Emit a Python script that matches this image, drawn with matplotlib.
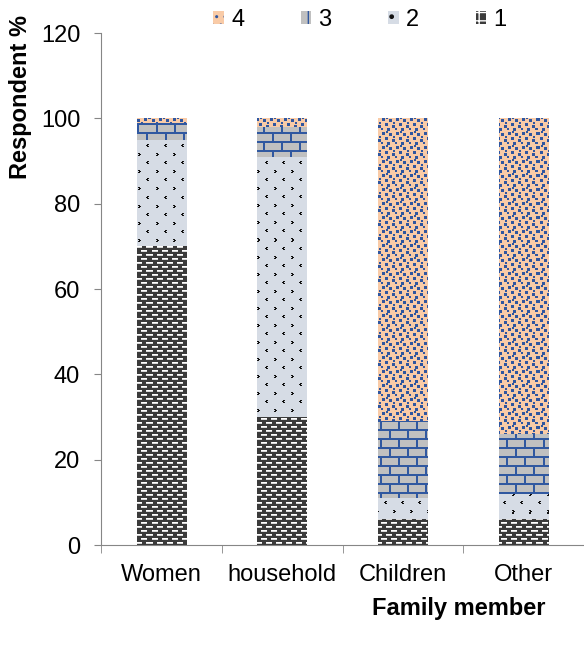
import numpy as np
import matplotlib
matplotlib.use("Agg")
import matplotlib.pyplot as plt
from matplotlib.patches import Patch

# Data
categories = ["Women", "household", "Children", "Other"]
series_labels = ["1", "2", "3", "4"]
share_1 = [70, 30, 6, 6]
share_2 = [25, 61, 5, 6]
share_3 = [4, 7, 18, 14]
share_4 = [1, 2, 71, 74]
y_ticks = [0, 20, 40, 60, 80, 100, 120]

plt.rcParams["font.family"] = ["Liberation Sans", "DejaVu Sans"]
FS = 17

W, H = 584, 650
fig = plt.figure(figsize=(W / 100, H / 100), dpi=100)
ax = fig.add_axes([101 / W, 105 / H, (W - 101) / W, 512 / H])


def rgb(h):
    return np.array([int(h[i:i + 2], 16) for i in (1, 3, 5)]) / 255.0


# Small pixel tiles used as fill textures
def tile_dashes():
    t = np.empty((8, 10, 3))
    t[:] = rgb("#3b3b3b")
    dash = np.zeros(10, bool)
    dash[0:6] = True
    t[1, dash] = rgb("#ffffff")
    t[2, dash] = rgb("#d9d9d9")
    t[5, np.roll(dash, 5)] = rgb("#ffffff")
    t[6, np.roll(dash, 5)] = rgb("#d9d9d9")
    return t


def tile_arrows():
    t = np.empty((17, 17, 3))
    t[:] = rgb("#d6dce5")
    k = rgb("#111111")
    right = [(0, 0), (0, 1), (1, 1), (1, 2), (2, 0), (2, 1)]
    left = [(0, 1), (0, 2), (1, 0), (1, 1), (2, 1), (2, 2)]
    for r, c in right:
        t[2 + r, 3 + c] = k
    for r, c in left:
        t[10 + r, 11 + c] = k
    return t


def tile_bricks():
    t = np.empty((18, 18, 3))
    t[:] = rgb("#c0c0c0")
    m = rgb("#3058a0")
    t[0:2, :] = m
    t[9:11, :] = m
    t[0:9, 0:2] = m
    t[9:18, 9:11] = m
    return t


def tile_squares():
    t = np.empty((14, 14, 3))
    t[:] = rgb("#f9cba7")
    b = rgb("#2f56a0")
    for r, c, s in [(1, 1, 3), (2, 8, 3), (6, 4, 3), (8, 11, 3),
                    (11, 0, 2), (11, 6, 3), (5, 12, 2), (0, 5, 2)]:
        t[r:r + s, c:c + s] = b
    return t


fills = [
    ("#3b3b3b", tile_dashes()),
    ("#d6dce5", tile_arrows()),
    ("#c0c0c0", tile_bricks()),
    ("#f9cba7", tile_squares()),
]

ax.set_xlim(-0.5, 3.5)
ax.set_ylim(0, 120)
x = np.arange(len(categories))
bar_w = 0.41

# Texture canvas the size of the axes in pixels
pos = ax.get_position()
aw = int(round(pos.width * W))
ah = int(round(pos.height * H))


def texture(tile):
    th, tw, _ = tile.shape
    reps = (ah // th + 1, aw // tw + 1, 1)
    return np.tile(tile, reps)[:ah, :aw]


bottom = np.zeros(len(categories))
for vals, (base, tile) in zip([share_1, share_2, share_3, share_4], fills):
    bars = ax.bar(x, vals, bar_w, bottom=bottom, color=base,
                  edgecolor="none", zorder=2)
    tex = texture(tile)
    for rect in bars.patches:
        im = ax.imshow(tex, extent=(-0.5, 3.5, 0, 120), aspect="auto",
                       interpolation="nearest", origin="upper", zorder=3)
        im.set_clip_path(rect)
    bottom = bottom + np.array(vals)

ax.set_xlim(-0.5, 3.5)
ax.set_ylim(0, 120)
ax.set_yticks(y_ticks)
ax.set_xticks(x, categories)
ax.set_xticks(np.arange(-0.5, 4.0, 1.0), minor=True)

axis_grey = "#868686"
ax.tick_params(axis="x", which="major", length=0, pad=14, labelsize=FS)
ax.tick_params(axis="x", which="minor", length=6, direction="out",
               color=axis_grey)
ax.tick_params(axis="y", length=5, color=axis_grey, labelsize=FS, pad=10)
for s in ["top", "right"]:
    ax.spines[s].set_visible(False)
for s in ["left", "bottom"]:
    ax.spines[s].set_color(axis_grey)

handles = [
    Patch(facecolor="#f9cba7", edgecolor="#2f56a0", hatch="..", lw=0, label="4"),
    Patch(facecolor="#c0c0c0", edgecolor="#3058a0", hatch="+", lw=0, label="3"),
    Patch(facecolor="#d6dce5", edgecolor="#111111", hatch=".", lw=0, label="2"),
    Patch(facecolor="#3b3b3b", edgecolor="#ffffff", hatch="++", lw=0, label="1"),
]
fig.legend(handles=handles, loc="center", bbox_to_anchor=(360 / W, 1 - 20 / H),
           ncol=4, frameon=False, fontsize=FS, handlelength=0.45,
           handleheight=0.45, handletextpad=0.3, columnspacing=2.4,
           borderaxespad=0, borderpad=0)

fig.text(21 / W, 1 - 97 / H, "Respondent %", rotation=90, ha="center",
         va="center", fontweight="bold", fontsize=FS)
fig.text(459 / W, 1 - 608 / H, "Family member", ha="center", va="center",
         fontweight="bold", fontsize=FS)

fig.savefig("out.png", dpi=100)
